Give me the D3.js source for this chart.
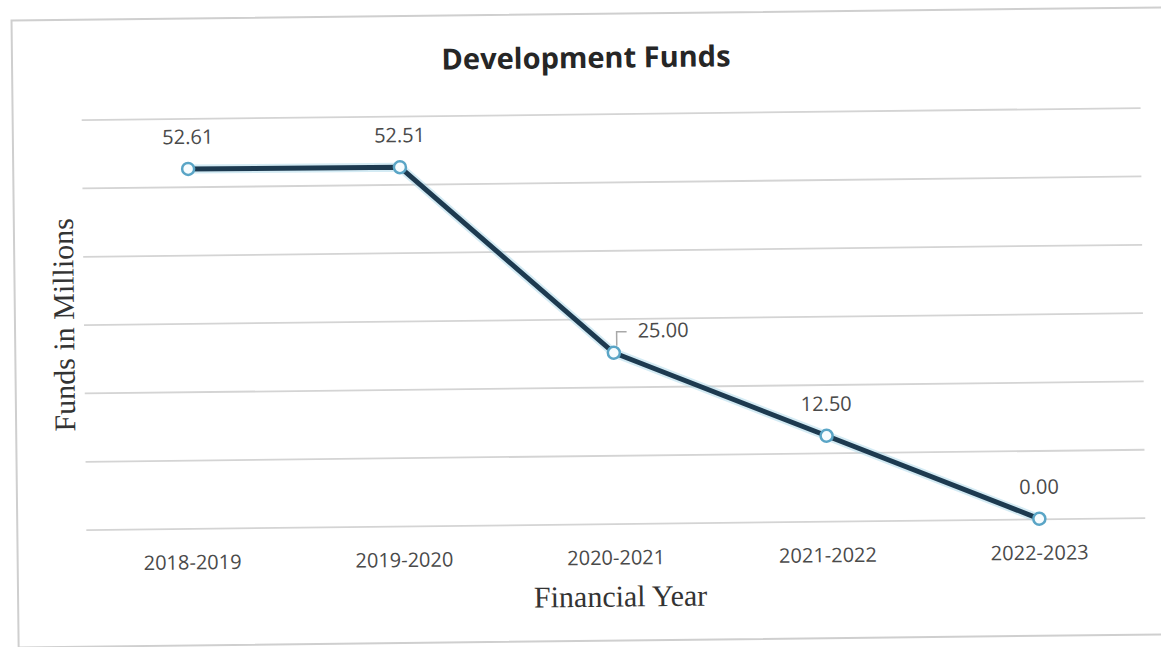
<!DOCTYPE html>
<html>
<head>
<meta charset="utf-8">
<script src="https://cdn.jsdelivr.net/npm/d3@7"></script>
<style>
  html, body { margin: 0; padding: 0; background: #ffffff; }
  svg { display: block; }
</style>
</head>
<body>
<svg id="chart" width="1161" height="647"></svg>
<script>
// Development funds per financial year (millions)
const years = ["2018-2019", "2019-2020", "2020-2021", "2021-2022", "2022-2023"];
const funds = [52.61, 52.51, 25.00, 12.50, 0.00];
const gridTicks = [0, 10, 20, 30, 40, 50, 60];
const labelText = ["52.61", "52.51", "25.00", "12.50", "0.00"];

const chartTitle = "Development Funds";
const xTitle = "Financial Year";
const yTitle = "Funds in Millions";

const W = 1161, H = 647;
const plot = { left: 84, right: 1143, top: 114, bottom: 524 };

const svg = d3.select("#chart");

// whole sheet sits at a very slight tilt
const root = svg.append("g")
  .attr("transform", "rotate(-0.65, 580, 323)");

// outer chart frame
root.append("rect")
  .attr("x", 15).attr("y", 14)
  .attr("width", 1170).attr("height", 627)
  .attr("fill", "#ffffff")
  .attr("stroke", "#cfcfcf")
  .attr("stroke-width", 2);

const x = d3.scaleBand()
  .domain(years)
  .range([plot.left, plot.right])
  .padding(0);

const y = d3.scaleLinear()
  .domain([0, 60])
  .range([plot.bottom, plot.top]);

// horizontal gridlines
const yAxis = d3.axisLeft(y)
  .tickValues(gridTicks)
  .tickSize(-(plot.right - plot.left))
  .tickFormat("");
const gy = root.append("g")
  .attr("transform", `translate(${plot.left},0)`)
  .call(yAxis);
gy.select(".domain").remove();
gy.selectAll(".tick line")
  .attr("stroke", "#d4d4d4")
  .attr("stroke-width", 1.8);

// category axis labels
const xAxis = d3.axisBottom(x).tickSize(0).tickPadding(0);
const gx = root.append("g")
  .attr("transform", `translate(0,${plot.bottom})`)
  .call(xAxis);
gx.select(".domain").remove();
gx.selectAll(".tick text")
  .attr("dy", null)
  .attr("y", 41)
  .attr("font-family", "'Open Sans', sans-serif")
  .attr("font-size", 20)
  .attr("fill", "#4a4a4a");

const pts = years.map((yr, i) => ({
  year: yr,
  value: funds[i],
  label: labelText[i],
  cx: x(yr) + x.bandwidth() / 2,
  cy: y(funds[i])
}));

const line = d3.line()
  .x(d => d.cx)
  .y(d => d.cy);

// soft blue edge under the series line
root.append("path")
  .datum(pts)
  .attr("d", line)
  .attr("fill", "none")
  .attr("stroke", "#9fd2e6")
  .attr("stroke-width", 9)
  .attr("stroke-opacity", 0.45)
  .attr("stroke-linejoin", "round");

root.append("path")
  .datum(pts)
  .attr("d", line)
  .attr("fill", "none")
  .attr("stroke", "#1d3a50")
  .attr("stroke-width", 5)
  .attr("stroke-linejoin", "round");

// markers
root.selectAll("circle.marker")
  .data(pts)
  .join("circle")
  .attr("class", "marker")
  .attr("cx", d => d.cx)
  .attr("cy", d => d.cy)
  .attr("r", 6)
  .attr("fill", "#f7fcfe")
  .attr("stroke", "#5aa5c6")
  .attr("stroke-width", 2.5);

// data labels: above the marker, except the middle one which sits to the right with a leader
const labelFont = "'Open Sans', sans-serif";
pts.forEach((d, i) => {
  if (i === 2) {
    root.append("path")
      .attr("d", `M${d.cx + 3},${d.cy - 7} L${d.cx + 3},${d.cy - 21} L${d.cx + 13},${d.cy - 21}`)
      .attr("fill", "none")
      .attr("stroke", "#a8a8a8")
      .attr("stroke-width", 1.5);
    root.append("text")
      .attr("x", d.cx + 24)
      .attr("y", d.cy - 15)
      .attr("font-family", labelFont)
      .attr("font-size", 20)
      .attr("fill", "#4a4a4a")
      .text(d.label);
  } else {
    root.append("text")
      .attr("x", d.cx)
      .attr("y", d.cy - 25)
      .attr("text-anchor", "middle")
      .attr("font-family", labelFont)
      .attr("font-size", 20)
      .attr("fill", "#4a4a4a")
      .text(d.label);
  }
});

// chart title
root.append("text")
  .attr("x", 589)
  .attr("y", 68)
  .attr("text-anchor", "middle")
  .attr("font-family", "'Open Sans', sans-serif")
  .attr("font-weight", "bold")
  .attr("font-size", 29)
  .attr("fill", "#262626")
  .text(chartTitle);

// axis titles
root.append("text")
  .attr("x", (plot.left + plot.right) / 2 + 4)
  .attr("y", 607)
  .attr("text-anchor", "middle")
  .attr("font-family", "'Liberation Serif', 'Times New Roman', serif")
  .attr("font-size", 30)
  .attr("fill", "#333333")
  .text(xTitle);

root.append("text")
  .attr("transform", `translate(74, ${(plot.top + plot.bottom) / 2}) rotate(-90)`)
  .attr("text-anchor", "middle")
  .attr("font-family", "'Liberation Serif', 'Times New Roman', serif")
  .attr("font-size", 30)
  .attr("fill", "#333333")
  .text(yTitle);
</script>
</body>
</html>
